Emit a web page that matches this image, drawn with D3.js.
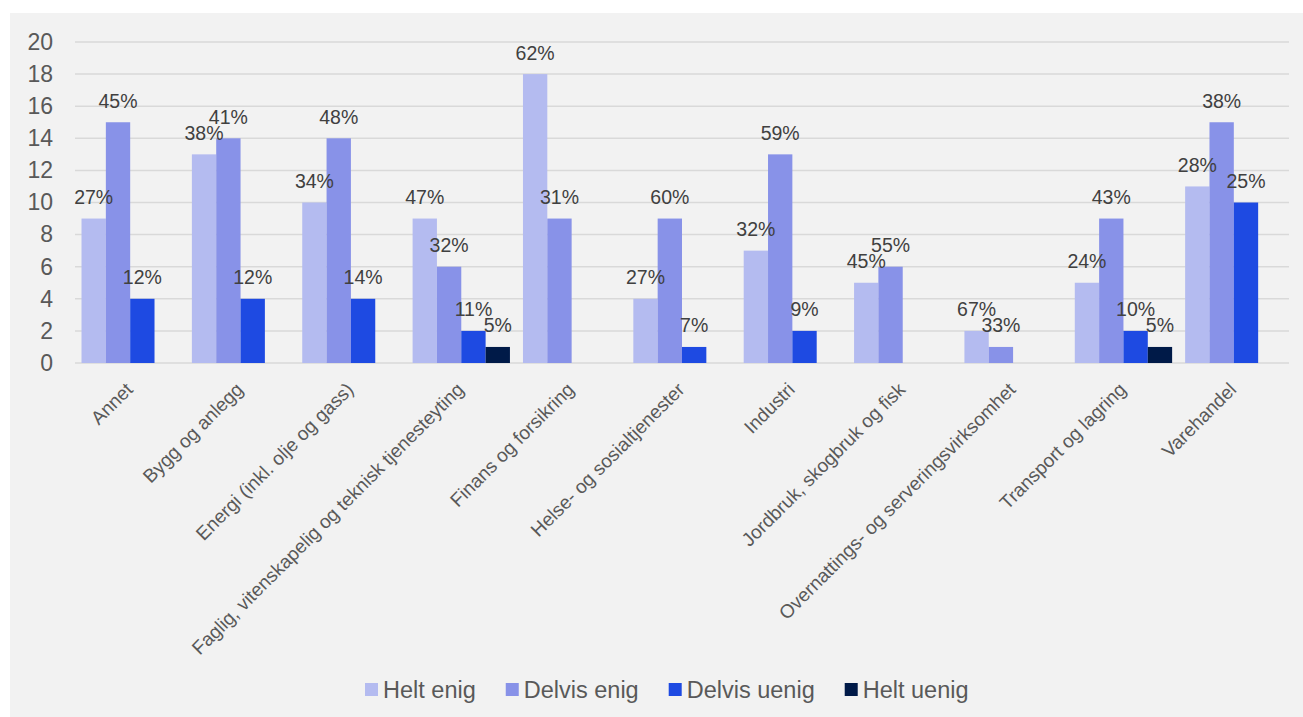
<!DOCTYPE html>
<html>
<head>
<meta charset="utf-8">
<script src="https://cdn.jsdelivr.net/npm/d3@7"></script>
<style>
  html, body { margin: 0; padding: 0; background: #ffffff; }
  svg { display: block; }
  text { font-family: "Liberation Sans", Arial, sans-serif; }
</style>
</head>
<body>
<svg id="chart" width="1303" height="717"></svg>
<script>
const categories = [
  "Annet",
  "Bygg og anlegg",
  "Energi (inkl. olje og gass)",
  "Faglig, vitenskapelig og teknisk tjenesteyting",
  "Finans og forsikring",
  "Helse- og sosialtjenester",
  "Industri",
  "Jordbruk, skogbruk og fisk",
  "Overnattings- og serveringsvirksomhet",
  "Transport og lagring",
  "Varehandel"
];
const seriesNames = ["Helt enig", "Delvis enig", "Delvis uenig", "Helt uenig"];
const heltEnig    = [9, 13, 10, 9, 18, 4, 7, 5, 2, 5, 11];
const delvisEnig  = [15, 14, 14, 6, 9, 9, 13, 6, 1, 9, 15];
const delvisUenig = [4, 4, 4, 2, null, 1, 2, null, null, 2, 10];
const heltUenig   = [null, null, null, 1, null, null, null, null, null, 1, null];
const heltEnigPct    = ["27%", "38%", "34%", "47%", "62%", "27%", "32%", "45%", "67%", "24%", "28%"];
const delvisEnigPct  = ["45%", "41%", "48%", "32%", "31%", "60%", "59%", "55%", "33%", "43%", "38%"];
const delvisUenigPct = ["12%", "12%", "14%", "11%", null, "7%", "9%", null, null, "10%", "25%"];
const heltUenigPct   = [null, null, null, "5%", null, null, null, null, null, "5%", null];
const yTicks = [0, 2, 4, 6, 8, 10, 12, 14, 16, 18, 20];
const colors = ["#b4bbf0", "#8892e8", "#1e4ae2", "#001a48"];

const seriesValues = [heltEnig, delvisEnig, delvisUenig, heltUenig];
const seriesPct = [heltEnigPct, delvisEnigPct, delvisUenigPct, heltUenigPct];

const svg = d3.select("#chart");
svg.append("rect").attr("x", 10).attr("y", 13).attr("width", 1293).attr("height", 704).attr("fill", "#f2f2f2");

const plotLeft = 75, plotRight = 1289, plotTop = 42, plotBottom = 363;
const y = d3.scaleLinear().domain([0, 20]).range([plotBottom, plotTop]);
const x0 = d3.scaleBand().domain(categories).range([plotLeft, plotRight]).paddingInner(0.118).paddingOuter(0.059);
const x1 = d3.scaleBand().domain(seriesNames).range([0, x0.bandwidth()]).padding(0);

// gridlines
svg.append("g").selectAll("line").data(yTicks).join("line")
  .attr("x1", plotLeft).attr("x2", plotRight)
  .attr("y1", d => y(d)).attr("y2", d => y(d))
  .attr("stroke", "#d9d9d9").attr("stroke-width", 1.5);

// y axis labels
const yAxis = d3.axisLeft(y).tickValues(yTicks).tickSize(0).tickPadding(0);
const yg = svg.append("g").attr("transform", `translate(53,0)`).call(yAxis);
yg.select(".domain").remove();
yg.selectAll("text").attr("font-size", 23).attr("fill", "#595959")
  .attr("font-family", "Liberation Sans, Arial, sans-serif");

// bars
const flat = [];
categories.forEach((c, i) => {
  seriesNames.forEach((s, j) => {
    const v = seriesValues[j][i];
    if (v != null) flat.push({ c, s, j, v, pct: seriesPct[j][i] });
  });
});
const bars = svg.append("g");
bars.selectAll("rect").data(flat).join("rect")
  .attr("x", d => x0(d.c) + x1(d.s))
  .attr("y", d => y(d.v))
  .attr("width", x1.bandwidth())
  .attr("height", d => y(0) - y(d.v))
  .attr("fill", d => colors[d.j]);

// data labels
bars.selectAll("text").data(flat.filter(d => d.pct)).join("text")
  .attr("x", d => x0(d.c) + x1(d.s) + x1.bandwidth() / 2)
  .attr("y", d => y(d.v) - 14.5)
  .attr("text-anchor", "middle")
  .attr("font-size", 19.5)
  .attr("fill", "#404040")
  .text(d => d.pct);

// category labels
const xAxis = d3.axisBottom(x0).tickSize(0).tickPadding(0);
const xg = svg.append("g").attr("transform", `translate(0,${plotBottom})`).call(xAxis);
xg.select(".domain").remove();
xg.selectAll("text")
  .attr("font-size", 19)
  .attr("fill", "#595959")
  .attr("font-family", "Liberation Sans, Arial, sans-serif")
  .attr("text-anchor", "end")
  .attr("dy", "0.35em")
  .attr("y", 0)
  .attr("transform", "translate(-1,23) rotate(-45)");

// legend
const lg = svg.append("g");
let lx = 365;
seriesNames.forEach((s, j) => {
  lg.append("rect").attr("x", lx).attr("y", 683).attr("width", 13).attr("height", 13).attr("fill", colors[j]);
  const t = lg.append("text").attr("x", lx + 18).attr("y", 698)
    .attr("font-size", 23.5).attr("fill", "#595959").text(s);
  lx += 18 + t.node().getComputedTextLength() + 30;
});
</script>
</body>
</html>
